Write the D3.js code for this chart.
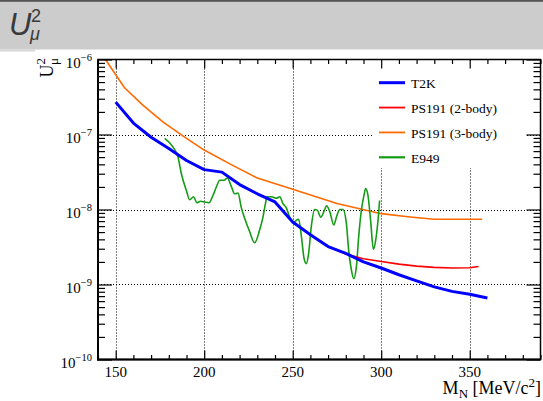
<!DOCTYPE html>
<html>
<head>
<meta charset="utf-8">
<script src="https://cdn.jsdelivr.net/npm/d3@7"></script>
<style>
  html, body { margin: 0; padding: 0; background: #fff; }
  svg { display: block; }
</style>
</head>
<body>
<script>
// Heavy neutral lepton mixing limits |U_mu|^2 versus mass
const xTicks = [150, 200, 250, 300, 350];
const yDecades = [1e-10, 1e-9, 1e-8, 1e-7, 1e-6];

const massT2K = [150,160,170,180,190,200,210,220,230,240,250,260,270,280,290,300,310,320,330,340,350,360];
const u2T2K   = [2.7e-7,1.42e-7,9.2e-8,6.5e-8,4.5e-8,3.4e-8,3.15e-8,2.15e-8,1.62e-8,1.26e-8,6.8e-9,4.6e-9,3.2e-9,2.6e-9,2.0e-9,1.66e-9,1.35e-9,1.12e-9,9.3e-10,8.1e-10,7.4e-10,6.6e-10];

const massPS2 = [270,280,290,300,310,320,330,340,350,355];
const u2PS2   = [3.2e-9,2.55e-9,2.2e-9,2.03e-9,1.87e-9,1.76e-9,1.69e-9,1.66e-9,1.67e-9,1.74e-9];

const massPS3 = [140,155,165,177,190,200,215,230,250,275,300,315,330,357];
const u2PS3   = [1.4e-6,4.2e-7,2.5e-7,1.45e-7,8.9e-8,6.2e-8,4.0e-8,2.63e-8,1.86e-8,1.2e-8,8.8e-9,8.0e-9,7.4e-9,7.4e-9];

const massE949 = [177.7,182.4,185.2,187.1,189.9,191.8,194.0,195.9,197.8,200.3,202.7,205.0,206.9,208.8,211.2,213.1,215.4,217.2,219.1,221.0,222.9,225.5,228.5,231.4,233.2,234.6,235.5,238.0,240.8,242.7,244.5,246.4,248.3,250.2,252.1,253.4,254.9,256.4,257.7,259.0,260.5,262.4,263.9,265.9,268.1,269.1,271.0,273.2,274.7,276.6,278.4,280.3,281.6,283.2,284.5,286.0,287.3,288.8,290.3,291.2,292.5,294.0,295.6,296.9,298.2,299.1];
const u2E949   = [8.9e-8,6.8e-8,5.0e-8,3.0e-8,1.8e-8,1.35e-8,1.48e-8,1.23e-8,1.29e-8,1.26e-8,1.23e-8,1.55e-8,2.0e-8,2.45e-8,2.45e-8,2.63e-8,2.0e-8,1.62e-8,1.66e-8,1.05e-8,7.6e-9,5.2e-9,3.6e-9,5.4e-9,7.9e-9,1.2e-8,1.48e-8,1.48e-8,1.41e-8,1.48e-8,1.2e-8,1.05e-8,7.9e-9,6.6e-9,7.2e-9,7.4e-9,4.4e-9,2.24e-9,1.9e-9,2.6e-9,5.9e-9,1.0e-8,9.8e-9,7.9e-9,1.0e-8,1.12e-8,9.3e-9,6.2e-9,7.9e-9,1.0e-8,1.0e-8,6.6e-9,2.9e-9,1.55e-9,1.2e-9,1.74e-9,4.4e-9,9.8e-9,1.55e-8,1.9e-8,1.55e-8,7.2e-9,2.95e-9,3.9e-9,7.2e-9,1.32e-8];

const seriesNames = ["T2K", "PS191 (2-body)", "PS191 (3-body)", "E949"];

const W = 543, H = 401;
const L = 98, R = 540.5, T = 59.5, B = 359.5;
const serif = "'Liberation Serif', 'Times New Roman', serif";

const svg = d3.select("body").append("svg").attr("width", W).attr("height", H);

// title bar
svg.append("rect").attr("x", 0).attr("y", 0).attr("width", W).attr("height", 49.5).attr("fill", "#cccccc");
svg.append("rect").attr("x", 0).attr("y", 0).attr("width", W).attr("height", 1.8).attr("fill", "#555");
svg.append("rect").attr("x", 0).attr("y", 49.5).attr("width", 35).attr("height", 2).attr("fill", "#d6d6d6");
const titleFont = "'Liberation Sans', Arial, sans-serif";
svg.append("text").attr("x", 9).attr("y", 35).attr("font-family", titleFont).attr("fill", "#3a3a3a")
  .attr("font-size", 31).attr("font-style", "italic").text("U");
svg.append("text").attr("x", 31).attr("y", 22).attr("font-family", titleFont).attr("fill", "#3a3a3a")
  .attr("font-size", 18).text("2");
svg.append("text").attr("x", 30).attr("y", 40).attr("font-family", titleFont).attr("fill", "#3a3a3a")
  .attr("font-size", 18).attr("font-style", "italic").text("μ");

const x = d3.scaleLinear().domain([140, 390]).range([L, R]);
const y = d3.scaleLog().domain([1e-10, 1e-6]).range([B, T]);

// grid
const grid = svg.append("g").attr("stroke", "#000").attr("stroke-width", 1).attr("stroke-dasharray", "1,2");
grid.selectAll("line.gx").data(xTicks).join("line")
  .attr("x1", d => Math.round(x(d)) + 0.5).attr("x2", d => Math.round(x(d)) + 0.5)
  .attr("y1", T).attr("y2", B);
grid.selectAll("line.gy").data(yDecades.slice(1, 4)).join("line")
  .attr("y1", d => Math.round(y(d)) + 0.5).attr("y2", d => Math.round(y(d)) + 0.5)
  .attr("x1", L).attr("x2", R);

// data curves
svg.append("clipPath").attr("id", "plotclip").append("rect")
  .attr("x", L).attr("y", T).attr("width", R - L).attr("height", B - T);
const plot = svg.append("g").attr("clip-path", "url(#plotclip)");
const line = d3.line().x(d => x(d[0])).y(d => y(d[1]));
const smooth = d3.line().x(d => x(d[0])).y(d => y(d[1])).curve(d3.curveMonotoneX);

const curves = [
  { m: massPS3, v: u2PS3, color: "#ff6a00", w: 1.6, gen: line },
  { m: massE949, v: u2E949, color: "#149c14", w: 1.6, gen: smooth },
  { m: massPS2, v: u2PS2, color: "#ff0000", w: 1.6, gen: line },
  { m: massT2K, v: u2T2K, color: "#0000ff", w: 3, gen: line }
];
curves.forEach(c => {
  plot.append("path").datum(d3.zip(c.m, c.v))
    .attr("d", c.gen).attr("fill", "none")
    .attr("stroke", c.color).attr("stroke-width", c.w)
    .attr("stroke-linejoin", "round");
});

// axes with inward ticks
const minorX = d3.range(140, 391, 10).filter(v => !xTicks.includes(v));
const minorY = [];
for (let e = -10; e < -6; e++) for (let k = 2; k <= 9; k++) minorY.push(k * Math.pow(10, e));

function styleAxis(g) {
  g.select(".domain").remove();
  g.selectAll(".tick line").attr("stroke", "#000").attr("stroke-width", 1.2);
  g.selectAll(".tick text").remove();
}

// legend background (white box, no border) sits over the grid
svg.append("rect").attr("x", 374).attr("y", 62).attr("width", 152).attr("height", 106).attr("fill", "#fff");

svg.append("g").attr("transform", `translate(0,${B})`).call(d3.axisBottom(x).tickValues(xTicks).tickSize(-9)).call(styleAxis);
svg.append("g").attr("transform", `translate(0,${B})`).call(d3.axisBottom(x).tickValues(minorX).tickSize(-4.5)).call(styleAxis);
svg.append("g").attr("transform", `translate(0,${T})`).call(d3.axisTop(x).tickValues(xTicks).tickSize(-9)).call(styleAxis);
svg.append("g").attr("transform", `translate(0,${T})`).call(d3.axisTop(x).tickValues(minorX).tickSize(-4.5)).call(styleAxis);
svg.append("g").attr("transform", `translate(${L},0)`).call(d3.axisLeft(y).tickValues(yDecades).tickSize(-14)).call(styleAxis);
svg.append("g").attr("transform", `translate(${L},0)`).call(d3.axisLeft(y).tickValues(minorY).tickSize(-7)).call(styleAxis);
svg.append("g").attr("transform", `translate(${R},0)`).call(d3.axisRight(y).tickValues(yDecades).tickSize(-14)).call(styleAxis);
svg.append("g").attr("transform", `translate(${R},0)`).call(d3.axisRight(y).tickValues(minorY).tickSize(-7)).call(styleAxis);

// frame
svg.append("rect").attr("x", L).attr("y", T).attr("width", R - L).attr("height", B - T)
  .attr("fill", "none").attr("stroke", "#000").attr("stroke-width", 1.5);
svg.append("line").attr("x1", L).attr("x2", L).attr("y1", T).attr("y2", B + 1).attr("stroke", "#000").attr("stroke-width", 2);
svg.append("line").attr("x1", L - 1).attr("x2", R).attr("y1", B).attr("y2", B).attr("stroke", "#000").attr("stroke-width", 2);

// tick labels
svg.append("g").selectAll("text").data(xTicks).join("text")
  .attr("x", d => x(d)).attr("y", B + 17).attr("text-anchor", "middle")
  .attr("font-family", serif).attr("font-size", 15).attr("fill", "#000").text(d => d);

const yl = svg.append("g").selectAll("text").data(yDecades).join("text")
  .attr("x", 92).attr("y", d => y(d) + 8).attr("text-anchor", "end")
  .attr("font-family", serif).attr("font-size", 15).attr("fill", "#000");
yl.append("tspan").text("10");
yl.append("tspan").attr("font-size", 10.5).attr("dy", -7).text(d => "−" + Math.round(-Math.log10(d)));

// axis titles
const xt = svg.append("text").attr("x", 541).attr("y", 394).attr("text-anchor", "end")
  .attr("font-family", serif).attr("font-size", 18).attr("fill", "#000");
xt.append("tspan").text("M");
xt.append("tspan").attr("font-size", 13).attr("dy", 4).text("N");
xt.append("tspan").attr("dy", -4).text(" [MeV/c");
xt.append("tspan").attr("font-size", 13).attr("dy", -7).text("2");
xt.append("tspan").attr("dy", 7).text("]");

const yt = svg.append("text").attr("transform", "translate(53,58) rotate(-90)").attr("text-anchor", "end")
  .attr("font-family", serif).attr("font-size", 18).attr("fill", "#000");
yt.append("tspan").text("U");
yt.append("tspan").attr("font-size", 13).attr("dy", -8).text("2");
yt.append("tspan").attr("font-size", 13).attr("dx", -7).attr("dy", 13).text("μ");

// legend
const legendColors = ["#0000ff", "#ff0000", "#ff6a00", "#149c14"];
const legendWidths = [3, 1.8, 1.8, 2.2];
const legendY = d3.scaleLinear().domain([0, 3]).range([82.7, 157.3]);
const leg = svg.append("g").selectAll("g").data(seriesNames).join("g")
  .attr("transform", (d, i) => `translate(0,${legendY(i)})`);
leg.append("line").attr("x1", 379).attr("x2", 405).attr("y1", 0).attr("y2", 0)
  .attr("stroke", (d, i) => legendColors[i]).attr("stroke-width", (d, i) => legendWidths[i]);
leg.append("text").attr("x", 411).attr("y", 5.3)
  .attr("font-family", serif).attr("font-size", 13.5).attr("fill", "#000").text(d => d);
</script>
</body>
</html>
